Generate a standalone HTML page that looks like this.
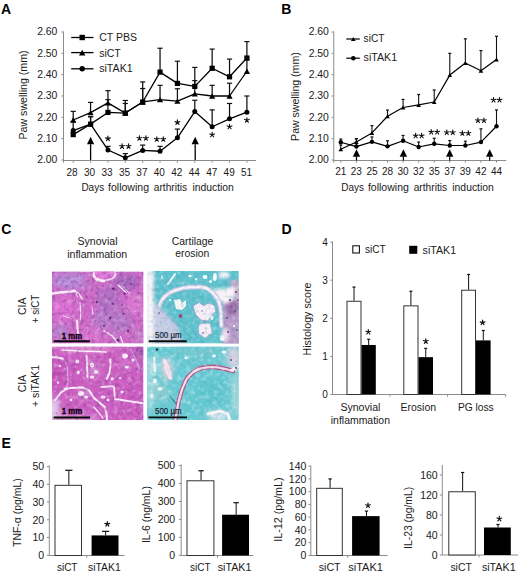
<!DOCTYPE html>
<html><head><meta charset="utf-8"><style>
html,body{margin:0;padding:0;background:#fff;width:520px;height:575px;overflow:hidden}
svg{display:block}
text{font-family:"Liberation Sans", sans-serif}
</style></head><body>
<svg width="520" height="575" viewBox="0 0 520 575">
<rect width="520" height="575" fill="#fff"/>
<text x="1.0" y="13.6" font-size="14" font-weight="bold" fill="#000">A</text>
<text x="281.2" y="13.8" font-size="14" font-weight="bold" fill="#000">B</text>
<text x="1.3" y="233.6" font-size="14" font-weight="bold" fill="#000">C</text>
<text x="281.6" y="233.8" font-size="14" font-weight="bold" fill="#000">D</text>
<text x="1.6" y="448.0" font-size="14" font-weight="bold" fill="#000">E</text>
<line x1="63.5" y1="31.5" x2="63.5" y2="162.7" stroke="#8c8c8c" stroke-width="1"/>
<line x1="63.5" y1="160.5" x2="256" y2="160.5" stroke="#8c8c8c" stroke-width="1"/>
<line x1="61.3" y1="160.0" x2="63.5" y2="160.0" stroke="#8c8c8c" stroke-width="1"/>
<text x="57.4" y="163.4" font-size="10.4" text-anchor="end" fill="#1a1a1a">2.00</text>
<line x1="61.3" y1="138.66699999999997" x2="63.5" y2="138.66699999999997" stroke="#8c8c8c" stroke-width="1"/>
<text x="57.4" y="142.07" font-size="10.4" text-anchor="end" fill="#1a1a1a">2.10</text>
<line x1="61.3" y1="117.33399999999996" x2="63.5" y2="117.33399999999996" stroke="#8c8c8c" stroke-width="1"/>
<text x="57.4" y="120.73" font-size="10.4" text-anchor="end" fill="#1a1a1a">2.20</text>
<line x1="61.3" y1="96.00100000000003" x2="63.5" y2="96.00100000000003" stroke="#8c8c8c" stroke-width="1"/>
<text x="57.4" y="99.4" font-size="10.4" text-anchor="end" fill="#1a1a1a">2.30</text>
<line x1="61.3" y1="74.66800000000002" x2="63.5" y2="74.66800000000002" stroke="#8c8c8c" stroke-width="1"/>
<text x="57.4" y="78.07" font-size="10.4" text-anchor="end" fill="#1a1a1a">2.40</text>
<line x1="61.3" y1="53.334999999999994" x2="63.5" y2="53.334999999999994" stroke="#8c8c8c" stroke-width="1"/>
<text x="57.4" y="56.73" font-size="10.4" text-anchor="end" fill="#1a1a1a">2.50</text>
<line x1="61.3" y1="32.00199999999997" x2="63.5" y2="32.00199999999997" stroke="#8c8c8c" stroke-width="1"/>
<text x="57.4" y="35.4" font-size="10.4" text-anchor="end" fill="#1a1a1a">2.60</text>
<line x1="73.2" y1="160" x2="73.2" y2="162.7" stroke="#8c8c8c" stroke-width="1"/>
<text x="72.1" y="175.8" font-size="10" text-anchor="middle" fill="#1a1a1a">28</text>
<line x1="90.57" y1="160" x2="90.57" y2="162.7" stroke="#8c8c8c" stroke-width="1"/>
<text x="89.55" y="175.8" font-size="10" text-anchor="middle" fill="#1a1a1a">30</text>
<line x1="107.94" y1="160" x2="107.94" y2="162.7" stroke="#8c8c8c" stroke-width="1"/>
<text x="107.0" y="175.8" font-size="10" text-anchor="middle" fill="#1a1a1a">33</text>
<line x1="125.31" y1="160" x2="125.31" y2="162.7" stroke="#8c8c8c" stroke-width="1"/>
<text x="124.45" y="175.8" font-size="10" text-anchor="middle" fill="#1a1a1a">35</text>
<line x1="142.68" y1="160" x2="142.68" y2="162.7" stroke="#8c8c8c" stroke-width="1"/>
<text x="141.9" y="175.8" font-size="10" text-anchor="middle" fill="#1a1a1a">37</text>
<line x1="160.05" y1="160" x2="160.05" y2="162.7" stroke="#8c8c8c" stroke-width="1"/>
<text x="159.35" y="175.8" font-size="10" text-anchor="middle" fill="#1a1a1a">40</text>
<line x1="177.42" y1="160" x2="177.42" y2="162.7" stroke="#8c8c8c" stroke-width="1"/>
<text x="176.8" y="175.8" font-size="10" text-anchor="middle" fill="#1a1a1a">42</text>
<line x1="194.79" y1="160" x2="194.79" y2="162.7" stroke="#8c8c8c" stroke-width="1"/>
<text x="194.25" y="175.8" font-size="10" text-anchor="middle" fill="#1a1a1a">44</text>
<line x1="212.16" y1="160" x2="212.16" y2="162.7" stroke="#8c8c8c" stroke-width="1"/>
<text x="211.7" y="175.8" font-size="10" text-anchor="middle" fill="#1a1a1a">47</text>
<line x1="229.53" y1="160" x2="229.53" y2="162.7" stroke="#8c8c8c" stroke-width="1"/>
<text x="229.15" y="175.8" font-size="10" text-anchor="middle" fill="#1a1a1a">49</text>
<line x1="246.9" y1="160" x2="246.9" y2="162.7" stroke="#8c8c8c" stroke-width="1"/>
<text x="246.6" y="175.8" font-size="10" text-anchor="middle" fill="#1a1a1a">51</text>
<text x="81.4" y="190.6" font-size="10" textLength="22.8" lengthAdjust="spacingAndGlyphs" fill="#1a1a1a">Days</text>
<text x="108.0" y="190.6" font-size="10" textLength="41.0" lengthAdjust="spacingAndGlyphs" fill="#1a1a1a">following</text>
<text x="153.8" y="190.6" font-size="10" textLength="33.4" lengthAdjust="spacingAndGlyphs" fill="#1a1a1a">arthritis</text>
<text x="192.4" y="190.6" font-size="10" textLength="41.5" lengthAdjust="spacingAndGlyphs" fill="#1a1a1a">induction</text>
<text transform="translate(26.8,95.0) rotate(-90)" x="0" y="0" font-size="10" text-anchor="middle" textLength="89" lengthAdjust="spacingAndGlyphs" fill="#1a1a1a">Paw swelling (mm)</text>
<line x1="73.2" y1="134.61" x2="73.2" y2="132.27" stroke="#111" stroke-width="1.25"/>
<line x1="70.6" y1="132.27" x2="75.8" y2="132.27" stroke="#111" stroke-width="1.2"/>
<line x1="90.57" y1="124.16" x2="90.57" y2="116.69" stroke="#111" stroke-width="1.25"/>
<line x1="87.97" y1="116.69" x2="93.17" y2="116.69" stroke="#111" stroke-width="1.2"/>
<line x1="107.94" y1="112.43" x2="107.94" y2="99.63" stroke="#111" stroke-width="1.25"/>
<line x1="105.34" y1="99.63" x2="110.54" y2="99.63" stroke="#111" stroke-width="1.2"/>
<line x1="125.31" y1="113.07" x2="125.31" y2="100.48" stroke="#111" stroke-width="1.25"/>
<line x1="122.71" y1="100.48" x2="127.91" y2="100.48" stroke="#111" stroke-width="1.2"/>
<line x1="142.68" y1="101.97" x2="142.68" y2="88.53" stroke="#111" stroke-width="1.25"/>
<line x1="140.08" y1="88.53" x2="145.28" y2="88.53" stroke="#111" stroke-width="1.2"/>
<line x1="160.05" y1="72.11" x2="160.05" y2="48.22" stroke="#111" stroke-width="1.25"/>
<line x1="157.45" y1="48.22" x2="162.65" y2="48.22" stroke="#111" stroke-width="1.2"/>
<line x1="177.42" y1="83.41" x2="177.42" y2="61.23" stroke="#111" stroke-width="1.25"/>
<line x1="174.82" y1="61.23" x2="180.02" y2="61.23" stroke="#111" stroke-width="1.2"/>
<line x1="194.79" y1="86.4" x2="194.79" y2="67.41" stroke="#111" stroke-width="1.25"/>
<line x1="192.19" y1="67.41" x2="197.39" y2="67.41" stroke="#111" stroke-width="1.2"/>
<line x1="212.16" y1="68.27" x2="212.16" y2="49.07" stroke="#111" stroke-width="1.25"/>
<line x1="209.56" y1="49.07" x2="214.76" y2="49.07" stroke="#111" stroke-width="1.2"/>
<line x1="229.53" y1="76.8" x2="229.53" y2="59.09" stroke="#111" stroke-width="1.25"/>
<line x1="226.93" y1="59.09" x2="232.13" y2="59.09" stroke="#111" stroke-width="1.2"/>
<line x1="246.9" y1="58.03" x2="246.9" y2="41.6" stroke="#111" stroke-width="1.25"/>
<line x1="244.3" y1="41.6" x2="249.5" y2="41.6" stroke="#111" stroke-width="1.2"/>
<line x1="73.2" y1="120.0" x2="73.2" y2="111.36" stroke="#111" stroke-width="1.25"/>
<line x1="70.6" y1="111.36" x2="75.8" y2="111.36" stroke="#111" stroke-width="1.2"/>
<line x1="90.57" y1="112.64" x2="90.57" y2="102.4" stroke="#111" stroke-width="1.25"/>
<line x1="87.97" y1="102.4" x2="93.17" y2="102.4" stroke="#111" stroke-width="1.2"/>
<line x1="107.94" y1="102.83" x2="107.94" y2="90.67" stroke="#111" stroke-width="1.25"/>
<line x1="105.34" y1="90.67" x2="110.54" y2="90.67" stroke="#111" stroke-width="1.2"/>
<line x1="125.31" y1="113.07" x2="125.31" y2="103.47" stroke="#111" stroke-width="1.25"/>
<line x1="122.71" y1="103.47" x2="127.91" y2="103.47" stroke="#111" stroke-width="1.2"/>
<line x1="142.68" y1="101.97" x2="142.68" y2="81.92" stroke="#111" stroke-width="1.25"/>
<line x1="140.08" y1="81.92" x2="145.28" y2="81.92" stroke="#111" stroke-width="1.2"/>
<line x1="160.05" y1="99.63" x2="160.05" y2="85.33" stroke="#111" stroke-width="1.25"/>
<line x1="157.45" y1="85.33" x2="162.65" y2="85.33" stroke="#111" stroke-width="1.2"/>
<line x1="177.42" y1="101.12" x2="177.42" y2="88.75" stroke="#111" stroke-width="1.25"/>
<line x1="174.82" y1="88.75" x2="180.02" y2="88.75" stroke="#111" stroke-width="1.2"/>
<line x1="194.79" y1="93.87" x2="194.79" y2="80.64" stroke="#111" stroke-width="1.25"/>
<line x1="192.19" y1="80.64" x2="197.39" y2="80.64" stroke="#111" stroke-width="1.2"/>
<line x1="212.16" y1="96.0" x2="212.16" y2="85.33" stroke="#111" stroke-width="1.25"/>
<line x1="209.56" y1="85.33" x2="214.76" y2="85.33" stroke="#111" stroke-width="1.2"/>
<line x1="229.53" y1="96.0" x2="229.53" y2="83.2" stroke="#111" stroke-width="1.25"/>
<line x1="226.93" y1="83.2" x2="232.13" y2="83.2" stroke="#111" stroke-width="1.2"/>
<line x1="246.9" y1="71.25" x2="246.9" y2="59.73" stroke="#111" stroke-width="1.25"/>
<line x1="244.3" y1="59.73" x2="249.5" y2="59.73" stroke="#111" stroke-width="1.2"/>
<line x1="73.2" y1="130.56" x2="73.2" y2="121.6" stroke="#111" stroke-width="1.25"/>
<line x1="70.6" y1="121.6" x2="75.8" y2="121.6" stroke="#111" stroke-width="1.2"/>
<line x1="90.57" y1="124.16" x2="90.57" y2="116.69" stroke="#111" stroke-width="1.25"/>
<line x1="87.97" y1="116.69" x2="93.17" y2="116.69" stroke="#111" stroke-width="1.2"/>
<line x1="107.94" y1="149.97" x2="107.94" y2="146.35" stroke="#111" stroke-width="1.25"/>
<line x1="105.34" y1="146.35" x2="110.54" y2="146.35" stroke="#111" stroke-width="1.2"/>
<line x1="125.31" y1="157.87" x2="125.31" y2="153.6" stroke="#111" stroke-width="1.25"/>
<line x1="122.71" y1="153.6" x2="127.91" y2="153.6" stroke="#111" stroke-width="1.2"/>
<line x1="142.68" y1="150.4" x2="142.68" y2="145.07" stroke="#111" stroke-width="1.25"/>
<line x1="140.08" y1="145.07" x2="145.28" y2="145.07" stroke="#111" stroke-width="1.2"/>
<line x1="160.05" y1="151.25" x2="160.05" y2="146.35" stroke="#111" stroke-width="1.25"/>
<line x1="157.45" y1="146.35" x2="162.65" y2="146.35" stroke="#111" stroke-width="1.2"/>
<line x1="177.42" y1="137.81" x2="177.42" y2="129.07" stroke="#111" stroke-width="1.25"/>
<line x1="174.82" y1="129.07" x2="180.02" y2="129.07" stroke="#111" stroke-width="1.2"/>
<line x1="194.79" y1="111.57" x2="194.79" y2="100.27" stroke="#111" stroke-width="1.25"/>
<line x1="192.19" y1="100.27" x2="197.39" y2="100.27" stroke="#111" stroke-width="1.2"/>
<line x1="212.16" y1="126.72" x2="212.16" y2="109.87" stroke="#111" stroke-width="1.25"/>
<line x1="209.56" y1="109.87" x2="214.76" y2="109.87" stroke="#111" stroke-width="1.2"/>
<line x1="229.53" y1="118.83" x2="229.53" y2="103.47" stroke="#111" stroke-width="1.25"/>
<line x1="226.93" y1="103.47" x2="232.13" y2="103.47" stroke="#111" stroke-width="1.2"/>
<line x1="246.9" y1="112.21" x2="246.9" y2="96.0" stroke="#111" stroke-width="1.25"/>
<line x1="244.3" y1="96.0" x2="249.5" y2="96.0" stroke="#111" stroke-width="1.2"/>
<polyline points="73.20,134.61 90.57,124.16 107.94,112.43 125.31,113.07 142.68,101.97 160.05,72.11 177.42,83.41 194.79,86.40 212.16,68.27 229.53,76.80 246.90,58.03" fill="none" stroke="#000" stroke-width="1.3" stroke-linejoin="round"/>
<polyline points="73.20,120.00 90.57,112.64 107.94,102.83 125.31,113.07 142.68,101.97 160.05,99.63 177.42,101.12 194.79,93.87 212.16,96.00 229.53,96.00 246.90,71.25" fill="none" stroke="#000" stroke-width="1.3" stroke-linejoin="round"/>
<polyline points="73.20,130.56 90.57,124.16 107.94,149.97 125.31,157.87 142.68,150.40 160.05,151.25 177.42,137.81 194.79,111.57 212.16,126.72 229.53,118.83 246.90,112.21" fill="none" stroke="#000" stroke-width="1.3" stroke-linejoin="round"/>
<rect x="70.60" y="132.01" width="5.2" height="5.2" fill="#000"/>
<rect x="87.97" y="121.56" width="5.2" height="5.2" fill="#000"/>
<rect x="105.34" y="109.83" width="5.2" height="5.2" fill="#000"/>
<rect x="122.71" y="110.47" width="5.2" height="5.2" fill="#000"/>
<rect x="140.08" y="99.37" width="5.2" height="5.2" fill="#000"/>
<rect x="157.45" y="69.51" width="5.2" height="5.2" fill="#000"/>
<rect x="174.82" y="80.81" width="5.2" height="5.2" fill="#000"/>
<rect x="192.19" y="83.80" width="5.2" height="5.2" fill="#000"/>
<rect x="209.56" y="65.67" width="5.2" height="5.2" fill="#000"/>
<rect x="226.93" y="74.20" width="5.2" height="5.2" fill="#000"/>
<rect x="244.30" y="55.43" width="5.2" height="5.2" fill="#000"/>
<polygon points="70.10,122.70 76.30,122.70 73.20,117.30" fill="#000"/>
<polygon points="87.47,115.34 93.67,115.34 90.57,109.94" fill="#000"/>
<polygon points="104.84,105.52 111.04,105.52 107.94,100.13" fill="#000"/>
<polygon points="122.21,115.76 128.41,115.76 125.31,110.37" fill="#000"/>
<polygon points="139.58,104.67 145.78,104.67 142.68,99.28" fill="#000"/>
<polygon points="156.95,102.32 163.15,102.32 160.05,96.93" fill="#000"/>
<polygon points="174.32,103.82 180.52,103.82 177.42,98.42" fill="#000"/>
<polygon points="191.69,96.56 197.89,96.56 194.79,91.17" fill="#000"/>
<polygon points="209.06,98.70 215.26,98.70 212.16,93.30" fill="#000"/>
<polygon points="226.43,98.70 232.63,98.70 229.53,93.30" fill="#000"/>
<polygon points="243.80,73.95 250.00,73.95 246.90,68.56" fill="#000"/>
<circle cx="73.20" cy="130.56" r="2.5" fill="#000"/>
<circle cx="90.57" cy="124.16" r="2.5" fill="#000"/>
<circle cx="107.94" cy="149.97" r="2.5" fill="#000"/>
<circle cx="125.31" cy="157.87" r="2.5" fill="#000"/>
<circle cx="142.68" cy="150.40" r="2.5" fill="#000"/>
<circle cx="160.05" cy="151.25" r="2.5" fill="#000"/>
<circle cx="177.42" cy="137.81" r="2.5" fill="#000"/>
<circle cx="194.79" cy="111.57" r="2.5" fill="#000"/>
<circle cx="212.16" cy="126.72" r="2.5" fill="#000"/>
<circle cx="229.53" cy="118.83" r="2.5" fill="#000"/>
<circle cx="246.90" cy="112.21" r="2.5" fill="#000"/>
<line x1="90.6" y1="144.3" x2="90.6" y2="160" stroke="#000" stroke-width="1.3"/>
<polygon points="87.00,144.3 94.20,144.3 90.60,136.8" fill="#000"/>
<line x1="195.2" y1="144.3" x2="195.2" y2="160" stroke="#000" stroke-width="1.3"/>
<polygon points="191.60,144.3 198.80,144.3 195.20,136.8" fill="#000"/>
<path d="M107.94,138.60L107.94,136.10M107.94,138.60L110.32,137.83M107.94,138.60L109.41,140.62M107.94,138.60L106.47,140.62M107.94,138.60L105.56,137.83" stroke="#111" stroke-width="1.15" stroke-linecap="round" fill="none"/>
<path d="M122.06,146.30L122.06,143.80M122.06,146.30L124.44,145.53M122.06,146.30L123.53,148.32M122.06,146.30L120.59,148.32M122.06,146.30L119.68,145.53" stroke="#111" stroke-width="1.15" stroke-linecap="round" fill="none"/>
<path d="M128.56,146.30L128.56,143.80M128.56,146.30L130.94,145.53M128.56,146.30L130.03,148.32M128.56,146.30L127.09,148.32M128.56,146.30L126.18,145.53" stroke="#111" stroke-width="1.15" stroke-linecap="round" fill="none"/>
<path d="M139.43,138.20L139.43,135.70M139.43,138.20L141.81,137.43M139.43,138.20L140.90,140.22M139.43,138.20L137.96,140.22M139.43,138.20L137.05,137.43" stroke="#111" stroke-width="1.15" stroke-linecap="round" fill="none"/>
<path d="M145.93,138.20L145.93,135.70M145.93,138.20L148.31,137.43M145.93,138.20L147.40,140.22M145.93,138.20L144.46,140.22M145.93,138.20L143.55,137.43" stroke="#111" stroke-width="1.15" stroke-linecap="round" fill="none"/>
<path d="M156.80,139.20L156.80,136.70M156.80,139.20L159.18,138.43M156.80,139.20L158.27,141.22M156.80,139.20L155.33,141.22M156.80,139.20L154.42,138.43" stroke="#111" stroke-width="1.15" stroke-linecap="round" fill="none"/>
<path d="M163.30,139.20L163.30,136.70M163.30,139.20L165.68,138.43M163.30,139.20L164.77,141.22M163.30,139.20L161.83,141.22M163.30,139.20L160.92,138.43" stroke="#111" stroke-width="1.15" stroke-linecap="round" fill="none"/>
<path d="M177.42,122.40L177.42,119.90M177.42,122.40L179.80,121.63M177.42,122.40L178.89,124.42M177.42,122.40L175.95,124.42M177.42,122.40L175.04,121.63" stroke="#111" stroke-width="1.15" stroke-linecap="round" fill="none"/>
<path d="M212.16,134.75L212.16,132.25M212.16,134.75L214.54,133.98M212.16,134.75L213.63,136.77M212.16,134.75L210.69,136.77M212.16,134.75L209.78,133.98" stroke="#111" stroke-width="1.15" stroke-linecap="round" fill="none"/>
<path d="M229.53,126.70L229.53,124.20M229.53,126.70L231.91,125.93M229.53,126.70L231.00,128.72M229.53,126.70L228.06,128.72M229.53,126.70L227.15,125.93" stroke="#111" stroke-width="1.15" stroke-linecap="round" fill="none"/>
<path d="M246.90,120.20L246.90,117.70M246.90,120.20L249.28,119.43M246.90,120.20L248.37,122.22M246.90,120.20L245.43,122.22M246.90,120.20L244.52,119.43" stroke="#111" stroke-width="1.15" stroke-linecap="round" fill="none"/>
<line x1="71.2" y1="37.5" x2="93.5" y2="37.5" stroke="#000" stroke-width="1.3"/>
<rect x="79.50" y="34.80" width="5.4" height="5.4" fill="#000"/>
<line x1="71.2" y1="52.6" x2="93.5" y2="52.6" stroke="#000" stroke-width="1.3"/>
<polygon points="79.00,55.38 85.40,55.38 82.20,49.82" fill="#000"/>
<line x1="71.2" y1="68.8" x2="93.5" y2="68.8" stroke="#000" stroke-width="1.3"/>
<circle cx="82.20" cy="68.80" r="2.7" fill="#000"/>
<text x="99.2" y="40.7" font-size="10" textLength="37.8" lengthAdjust="spacingAndGlyphs" fill="#1a1a1a">CT PBS</text>
<text x="99.2" y="56.5" font-size="10" textLength="21.6" lengthAdjust="spacingAndGlyphs" fill="#1a1a1a">siCT</text>
<text x="99.2" y="71.8" font-size="10" textLength="33.5" lengthAdjust="spacingAndGlyphs" fill="#1a1a1a">siTAK1</text>
<line x1="333.75" y1="31.5" x2="333.75" y2="162.7" stroke="#8c8c8c" stroke-width="1"/>
<line x1="333.75" y1="160.5" x2="506.3" y2="160.5" stroke="#8c8c8c" stroke-width="1"/>
<line x1="331.6" y1="160.0" x2="333.75" y2="160.0" stroke="#8c8c8c" stroke-width="1"/>
<text x="328.9" y="163.3" font-size="10.4" text-anchor="end" fill="#1a1a1a">2.00</text>
<line x1="331.6" y1="138.66699999999997" x2="333.75" y2="138.66699999999997" stroke="#8c8c8c" stroke-width="1"/>
<text x="328.9" y="141.97" font-size="10.4" text-anchor="end" fill="#1a1a1a">2.10</text>
<line x1="331.6" y1="117.33399999999996" x2="333.75" y2="117.33399999999996" stroke="#8c8c8c" stroke-width="1"/>
<text x="328.9" y="120.63" font-size="10.4" text-anchor="end" fill="#1a1a1a">2.20</text>
<line x1="331.6" y1="96.00100000000003" x2="333.75" y2="96.00100000000003" stroke="#8c8c8c" stroke-width="1"/>
<text x="328.9" y="99.3" font-size="10.4" text-anchor="end" fill="#1a1a1a">2.30</text>
<line x1="331.6" y1="74.66800000000002" x2="333.75" y2="74.66800000000002" stroke="#8c8c8c" stroke-width="1"/>
<text x="328.9" y="77.97" font-size="10.4" text-anchor="end" fill="#1a1a1a">2.40</text>
<line x1="331.6" y1="53.334999999999994" x2="333.75" y2="53.334999999999994" stroke="#8c8c8c" stroke-width="1"/>
<text x="328.9" y="56.63" font-size="10.4" text-anchor="end" fill="#1a1a1a">2.50</text>
<line x1="331.6" y1="32.00199999999997" x2="333.75" y2="32.00199999999997" stroke="#8c8c8c" stroke-width="1"/>
<text x="328.9" y="35.3" font-size="10.4" text-anchor="end" fill="#1a1a1a">2.60</text>
<line x1="340.8" y1="160" x2="340.8" y2="162.7" stroke="#8c8c8c" stroke-width="1"/>
<text x="340.8" y="175.2" font-size="10" text-anchor="middle" fill="#1a1a1a">21</text>
<line x1="356.37" y1="160" x2="356.37" y2="162.7" stroke="#8c8c8c" stroke-width="1"/>
<text x="356.37" y="175.2" font-size="10" text-anchor="middle" fill="#1a1a1a">23</text>
<line x1="371.94" y1="160" x2="371.94" y2="162.7" stroke="#8c8c8c" stroke-width="1"/>
<text x="371.94" y="175.2" font-size="10" text-anchor="middle" fill="#1a1a1a">25</text>
<line x1="387.51" y1="160" x2="387.51" y2="162.7" stroke="#8c8c8c" stroke-width="1"/>
<text x="387.51" y="175.2" font-size="10" text-anchor="middle" fill="#1a1a1a">28</text>
<line x1="403.08" y1="160" x2="403.08" y2="162.7" stroke="#8c8c8c" stroke-width="1"/>
<text x="403.08" y="175.2" font-size="10" text-anchor="middle" fill="#1a1a1a">30</text>
<line x1="418.65" y1="160" x2="418.65" y2="162.7" stroke="#8c8c8c" stroke-width="1"/>
<text x="418.65" y="175.2" font-size="10" text-anchor="middle" fill="#1a1a1a">32</text>
<line x1="434.22" y1="160" x2="434.22" y2="162.7" stroke="#8c8c8c" stroke-width="1"/>
<text x="434.22" y="175.2" font-size="10" text-anchor="middle" fill="#1a1a1a">35</text>
<line x1="449.79" y1="160" x2="449.79" y2="162.7" stroke="#8c8c8c" stroke-width="1"/>
<text x="449.79" y="175.2" font-size="10" text-anchor="middle" fill="#1a1a1a">37</text>
<line x1="465.36" y1="160" x2="465.36" y2="162.7" stroke="#8c8c8c" stroke-width="1"/>
<text x="465.36" y="175.2" font-size="10" text-anchor="middle" fill="#1a1a1a">39</text>
<line x1="480.93" y1="160" x2="480.93" y2="162.7" stroke="#8c8c8c" stroke-width="1"/>
<text x="480.93" y="175.2" font-size="10" text-anchor="middle" fill="#1a1a1a">42</text>
<line x1="496.5" y1="160" x2="496.5" y2="162.7" stroke="#8c8c8c" stroke-width="1"/>
<text x="496.5" y="175.2" font-size="10" text-anchor="middle" fill="#1a1a1a">44</text>
<text x="341.3" y="190.8" font-size="10" textLength="22.8" lengthAdjust="spacingAndGlyphs" fill="#1a1a1a">Days</text>
<text x="367.9" y="190.8" font-size="10" textLength="41.0" lengthAdjust="spacingAndGlyphs" fill="#1a1a1a">following</text>
<text x="413.7" y="190.8" font-size="10" textLength="33.4" lengthAdjust="spacingAndGlyphs" fill="#1a1a1a">arthritis</text>
<text x="452.3" y="190.8" font-size="10" textLength="41.5" lengthAdjust="spacingAndGlyphs" fill="#1a1a1a">induction</text>
<text transform="translate(299.3,96.6) rotate(-90)" x="0" y="0" font-size="10" text-anchor="middle" textLength="88.6" lengthAdjust="spacingAndGlyphs" fill="#1a1a1a">Paw swelling (mm)</text>
<line x1="340.8" y1="149.33" x2="340.8" y2="145.07" stroke="#111" stroke-width="1.1"/>
<line x1="339.3" y1="145.07" x2="342.3" y2="145.07" stroke="#111" stroke-width="1.2"/>
<line x1="356.37" y1="142.08" x2="356.37" y2="138.67" stroke="#111" stroke-width="1.1"/>
<line x1="354.87" y1="138.67" x2="357.87" y2="138.67" stroke="#111" stroke-width="1.2"/>
<line x1="371.94" y1="132.91" x2="371.94" y2="125.65" stroke="#111" stroke-width="1.1"/>
<line x1="370.44" y1="125.65" x2="373.44" y2="125.65" stroke="#111" stroke-width="1.2"/>
<line x1="387.51" y1="116.27" x2="387.51" y2="110.08" stroke="#111" stroke-width="1.1"/>
<line x1="386.01" y1="110.08" x2="389.01" y2="110.08" stroke="#111" stroke-width="1.2"/>
<line x1="403.08" y1="107.52" x2="403.08" y2="99.41" stroke="#111" stroke-width="1.1"/>
<line x1="401.58" y1="99.41" x2="404.58" y2="99.41" stroke="#111" stroke-width="1.2"/>
<line x1="418.65" y1="104.96" x2="418.65" y2="94.51" stroke="#111" stroke-width="1.1"/>
<line x1="417.15" y1="94.51" x2="420.15" y2="94.51" stroke="#111" stroke-width="1.2"/>
<line x1="434.22" y1="101.97" x2="434.22" y2="90.03" stroke="#111" stroke-width="1.1"/>
<line x1="432.72" y1="90.03" x2="435.72" y2="90.03" stroke="#111" stroke-width="1.2"/>
<line x1="449.79" y1="75.09" x2="449.79" y2="53.33" stroke="#111" stroke-width="1.1"/>
<line x1="448.29" y1="53.33" x2="451.29" y2="53.33" stroke="#111" stroke-width="1.2"/>
<line x1="465.36" y1="62.93" x2="465.36" y2="38.83" stroke="#111" stroke-width="1.1"/>
<line x1="463.86" y1="38.83" x2="466.86" y2="38.83" stroke="#111" stroke-width="1.2"/>
<line x1="480.93" y1="70.83" x2="480.93" y2="50.56" stroke="#111" stroke-width="1.1"/>
<line x1="479.43" y1="50.56" x2="482.43" y2="50.56" stroke="#111" stroke-width="1.2"/>
<line x1="496.5" y1="59.52" x2="496.5" y2="36.27" stroke="#111" stroke-width="1.1"/>
<line x1="495.0" y1="36.27" x2="498.0" y2="36.27" stroke="#111" stroke-width="1.2"/>
<line x1="340.8" y1="142.29" x2="340.8" y2="139.09" stroke="#111" stroke-width="1.1"/>
<line x1="339.3" y1="139.09" x2="342.3" y2="139.09" stroke="#111" stroke-width="1.2"/>
<line x1="356.37" y1="146.56" x2="356.37" y2="138.67" stroke="#111" stroke-width="1.1"/>
<line x1="354.87" y1="138.67" x2="357.87" y2="138.67" stroke="#111" stroke-width="1.2"/>
<line x1="371.94" y1="141.87" x2="371.94" y2="136.96" stroke="#111" stroke-width="1.1"/>
<line x1="370.44" y1="136.96" x2="373.44" y2="136.96" stroke="#111" stroke-width="1.2"/>
<line x1="387.51" y1="146.35" x2="387.51" y2="140.8" stroke="#111" stroke-width="1.1"/>
<line x1="386.01" y1="140.8" x2="389.01" y2="140.8" stroke="#111" stroke-width="1.2"/>
<line x1="403.08" y1="140.8" x2="403.08" y2="135.47" stroke="#111" stroke-width="1.1"/>
<line x1="401.58" y1="135.47" x2="404.58" y2="135.47" stroke="#111" stroke-width="1.2"/>
<line x1="418.65" y1="146.99" x2="418.65" y2="142.08" stroke="#111" stroke-width="1.1"/>
<line x1="417.15" y1="142.08" x2="420.15" y2="142.08" stroke="#111" stroke-width="1.2"/>
<line x1="434.22" y1="143.79" x2="434.22" y2="138.24" stroke="#111" stroke-width="1.1"/>
<line x1="432.72" y1="138.24" x2="435.72" y2="138.24" stroke="#111" stroke-width="1.2"/>
<line x1="449.79" y1="145.49" x2="449.79" y2="140.59" stroke="#111" stroke-width="1.1"/>
<line x1="448.29" y1="140.59" x2="451.29" y2="140.59" stroke="#111" stroke-width="1.2"/>
<line x1="465.36" y1="145.49" x2="465.36" y2="141.23" stroke="#111" stroke-width="1.1"/>
<line x1="463.86" y1="141.23" x2="466.86" y2="141.23" stroke="#111" stroke-width="1.2"/>
<line x1="480.93" y1="142.08" x2="480.93" y2="128.85" stroke="#111" stroke-width="1.1"/>
<line x1="479.43" y1="128.85" x2="482.43" y2="128.85" stroke="#111" stroke-width="1.2"/>
<line x1="496.5" y1="126.29" x2="496.5" y2="109.87" stroke="#111" stroke-width="1.1"/>
<line x1="495.0" y1="109.87" x2="498.0" y2="109.87" stroke="#111" stroke-width="1.2"/>
<polyline points="340.80,149.33 356.37,142.08 371.94,132.91 387.51,116.27 403.08,107.52 418.65,104.96 434.22,101.97 449.79,75.09 465.36,62.93 480.93,70.83 496.50,59.52" fill="none" stroke="#000" stroke-width="1.2" stroke-linejoin="round"/>
<polyline points="340.80,142.29 356.37,146.56 371.94,141.87 387.51,146.35 403.08,140.80 418.65,146.99 434.22,143.79 449.79,145.49 465.36,145.49 480.93,142.08 496.50,126.29" fill="none" stroke="#000" stroke-width="1.2" stroke-linejoin="round"/>
<polygon points="338.50,151.33 343.10,151.33 340.80,147.33" fill="#000"/>
<polygon points="354.07,144.08 358.67,144.08 356.37,140.08" fill="#000"/>
<polygon points="369.64,134.91 374.24,134.91 371.94,130.91" fill="#000"/>
<polygon points="385.21,118.27 389.81,118.27 387.51,114.27" fill="#000"/>
<polygon points="400.78,109.52 405.38,109.52 403.08,105.52" fill="#000"/>
<polygon points="416.35,106.96 420.95,106.96 418.65,102.96" fill="#000"/>
<polygon points="431.92,103.98 436.52,103.98 434.22,99.97" fill="#000"/>
<polygon points="447.49,77.10 452.09,77.10 449.79,73.09" fill="#000"/>
<polygon points="463.06,64.94 467.66,64.94 465.36,60.93" fill="#000"/>
<polygon points="478.63,72.83 483.23,72.83 480.93,68.83" fill="#000"/>
<polygon points="494.20,61.52 498.80,61.52 496.50,57.52" fill="#000"/>
<circle cx="340.80" cy="142.29" r="2.2" fill="#000"/>
<circle cx="356.37" cy="146.56" r="2.2" fill="#000"/>
<circle cx="371.94" cy="141.87" r="2.2" fill="#000"/>
<circle cx="387.51" cy="146.35" r="2.2" fill="#000"/>
<circle cx="403.08" cy="140.80" r="2.2" fill="#000"/>
<circle cx="418.65" cy="146.99" r="2.2" fill="#000"/>
<circle cx="434.22" cy="143.79" r="2.2" fill="#000"/>
<circle cx="449.79" cy="145.49" r="2.2" fill="#000"/>
<circle cx="465.36" cy="145.49" r="2.2" fill="#000"/>
<circle cx="480.93" cy="142.08" r="2.2" fill="#000"/>
<circle cx="496.50" cy="126.29" r="2.2" fill="#000"/>
<line x1="356.5" y1="156.7" x2="356.5" y2="160.5" stroke="#000" stroke-width="1.2"/>
<polygon points="352.80,156.7 360.20,156.7 356.50,149.2" fill="#000"/>
<line x1="403.4" y1="156.7" x2="403.4" y2="160.5" stroke="#000" stroke-width="1.2"/>
<polygon points="399.70,156.7 407.10,156.7 403.40,149.2" fill="#000"/>
<line x1="449.7" y1="156.7" x2="449.7" y2="160.5" stroke="#000" stroke-width="1.2"/>
<polygon points="446.00,156.7 453.40,156.7 449.70,149.2" fill="#000"/>
<line x1="489.7" y1="156.7" x2="489.7" y2="160.5" stroke="#000" stroke-width="1.2"/>
<polygon points="486.00,156.7 493.40,156.7 489.70,149.2" fill="#000"/>
<path d="M415.65,135.75L415.65,133.25M415.65,135.75L418.03,134.98M415.65,135.75L417.12,137.77M415.65,135.75L414.18,137.77M415.65,135.75L413.27,134.98" stroke="#111" stroke-width="1.15" stroke-linecap="round" fill="none"/>
<path d="M421.65,135.75L421.65,133.25M421.65,135.75L424.03,134.98M421.65,135.75L423.12,137.77M421.65,135.75L420.18,137.77M421.65,135.75L419.27,134.98" stroke="#111" stroke-width="1.15" stroke-linecap="round" fill="none"/>
<path d="M431.22,132.00L431.22,129.50M431.22,132.00L433.60,131.23M431.22,132.00L432.69,134.02M431.22,132.00L429.75,134.02M431.22,132.00L428.84,131.23" stroke="#111" stroke-width="1.15" stroke-linecap="round" fill="none"/>
<path d="M437.22,132.00L437.22,129.50M437.22,132.00L439.60,131.23M437.22,132.00L438.69,134.02M437.22,132.00L435.75,134.02M437.22,132.00L434.84,131.23" stroke="#111" stroke-width="1.15" stroke-linecap="round" fill="none"/>
<path d="M446.79,132.50L446.79,130.00M446.79,132.50L449.17,131.73M446.79,132.50L448.26,134.52M446.79,132.50L445.32,134.52M446.79,132.50L444.41,131.73" stroke="#111" stroke-width="1.15" stroke-linecap="round" fill="none"/>
<path d="M452.79,132.50L452.79,130.00M452.79,132.50L455.17,131.73M452.79,132.50L454.26,134.52M452.79,132.50L451.32,134.52M452.79,132.50L450.41,131.73" stroke="#111" stroke-width="1.15" stroke-linecap="round" fill="none"/>
<path d="M462.36,133.25L462.36,130.75M462.36,133.25L464.74,132.48M462.36,133.25L463.83,135.27M462.36,133.25L460.89,135.27M462.36,133.25L459.98,132.48" stroke="#111" stroke-width="1.15" stroke-linecap="round" fill="none"/>
<path d="M468.36,133.25L468.36,130.75M468.36,133.25L470.74,132.48M468.36,133.25L469.83,135.27M468.36,133.25L466.89,135.27M468.36,133.25L465.98,132.48" stroke="#111" stroke-width="1.15" stroke-linecap="round" fill="none"/>
<path d="M477.93,120.50L477.93,118.00M477.93,120.50L480.31,119.73M477.93,120.50L479.40,122.52M477.93,120.50L476.46,122.52M477.93,120.50L475.55,119.73" stroke="#111" stroke-width="1.15" stroke-linecap="round" fill="none"/>
<path d="M483.93,120.50L483.93,118.00M483.93,120.50L486.31,119.73M483.93,120.50L485.40,122.52M483.93,120.50L482.46,122.52M483.93,120.50L481.55,119.73" stroke="#111" stroke-width="1.15" stroke-linecap="round" fill="none"/>
<path d="M493.50,100.00L493.50,97.50M493.50,100.00L495.88,99.23M493.50,100.00L494.97,102.02M493.50,100.00L492.03,102.02M493.50,100.00L491.12,99.23" stroke="#111" stroke-width="1.15" stroke-linecap="round" fill="none"/>
<path d="M499.50,100.00L499.50,97.50M499.50,100.00L501.88,99.23M499.50,100.00L500.97,102.02M499.50,100.00L498.03,102.02M499.50,100.00L497.12,99.23" stroke="#111" stroke-width="1.15" stroke-linecap="round" fill="none"/>
<line x1="346.3" y1="39" x2="359.8" y2="39" stroke="#000" stroke-width="1.2"/>
<polygon points="350.90,41.09 355.70,41.09 353.30,36.91" fill="#000"/>
<line x1="346.3" y1="58.2" x2="359.8" y2="58.2" stroke="#000" stroke-width="1.2"/>
<circle cx="353.30" cy="58.20" r="2.3" fill="#000"/>
<text x="363.6" y="41.6" font-size="10" textLength="20.8" lengthAdjust="spacingAndGlyphs" fill="#1a1a1a">siCT</text>
<text x="363.6" y="60.6" font-size="10" textLength="33.5" lengthAdjust="spacingAndGlyphs" fill="#1a1a1a">siTAK1</text>
<text x="97.5" y="244.6" font-size="10" text-anchor="middle" textLength="40" lengthAdjust="spacingAndGlyphs" fill="#1a1a1a">Synovial</text>
<text x="97.2" y="257.5" font-size="10" text-anchor="middle" textLength="60" lengthAdjust="spacingAndGlyphs" fill="#1a1a1a">inflammation</text>
<text x="192.6" y="244.6" font-size="10" text-anchor="middle" textLength="41.6" lengthAdjust="spacingAndGlyphs" fill="#1a1a1a">Cartilage</text>
<text x="192.3" y="257.3" font-size="10" text-anchor="middle" textLength="34" lengthAdjust="spacingAndGlyphs" fill="#1a1a1a">erosion</text>
<text transform="translate(26.0,306.3) rotate(-90)" x="0" y="0" font-size="10" text-anchor="middle" textLength="17.4" lengthAdjust="spacingAndGlyphs" fill="#1a1a1a">CIA</text>
<text transform="translate(38.6,309.0) rotate(-90)" x="0" y="0" font-size="10" text-anchor="middle" textLength="28.5" lengthAdjust="spacingAndGlyphs" fill="#1a1a1a">+ siCT</text>
<text transform="translate(25.8,383.5) rotate(-90)" x="0" y="0" font-size="10" text-anchor="middle" textLength="17.4" lengthAdjust="spacingAndGlyphs" fill="#1a1a1a">CIA</text>
<text transform="translate(38.7,386.0) rotate(-90)" x="0" y="0" font-size="10" text-anchor="middle" textLength="42" lengthAdjust="spacingAndGlyphs" fill="#1a1a1a">+ siTAK1</text>
<defs>
<filter id="bl3" x="-20%" y="-20%" width="140%" height="140%"><feGaussianBlur stdDeviation="3"/></filter>
<filter id="bl2" x="-20%" y="-20%" width="140%" height="140%"><feGaussianBlur stdDeviation="1.6"/></filter>
<filter id="bl1" x="-20%" y="-20%" width="140%" height="140%"><feGaussianBlur stdDeviation="0.6"/></filter>
<filter id="noise" x="0" y="0" width="100%" height="100%">
  <feTurbulence type="fractalNoise" baseFrequency="0.35" numOctaves="2" seed="3" result="n"/>
  <feColorMatrix in="n" type="matrix" values="0 0 0 0 0  0 0 0 0 0  0 0 0 0 0  0 0 0 -1.4 0.75" result="a"/>
  <feComposite in="SourceGraphic" in2="a" operator="in"/>
</filter>
<filter id="spkW" x="0" y="0" width="100%" height="100%" color-interpolation-filters="sRGB">
 <feTurbulence type="fractalNoise" baseFrequency="0.22" numOctaves="2" seed="5"/>
 <feColorMatrix type="matrix" values="0 0 0 0 1  0 0 0 0 1  0 0 0 0 1  2.6 0 0 0 -1.25"/>
</filter>
<filter id="spkD" x="0" y="0" width="100%" height="100%" color-interpolation-filters="sRGB">
 <feTurbulence type="fractalNoise" baseFrequency="0.25" numOctaves="2" seed="11"/>
 <feColorMatrix type="matrix" values="0 0 0 0 0.35  0 0 0 0 0.15  0 0 0 0 0.45  0 2.6 0 0 -1.3"/>
</filter>
<filter id="spkT" x="0" y="0" width="100%" height="100%" color-interpolation-filters="sRGB">
 <feTurbulence type="fractalNoise" baseFrequency="0.25" numOctaves="2" seed="17"/>
 <feColorMatrix type="matrix" values="0 0 0 0 0.25  0 0 0 0 0.55  0 0 0 0 0.62  0 2.6 0 0 -1.3"/>
</filter>
<clipPath id="c1"><rect x="52" y="271.5" width="91.5" height="72"/></clipPath>
<clipPath id="c2"><rect x="147.5" y="271" width="91.3" height="72.5"/></clipPath>
<clipPath id="c3"><rect x="52" y="346.5" width="91.5" height="73.5"/></clipPath>
<clipPath id="c4"><rect x="147" y="346.5" width="91.8" height="73.5"/></clipPath>
</defs>

<!-- Tile 1: H&E synovial, siCT -->
<g clip-path="url(#c1)">
<rect x="52" y="271.5" width="91.5" height="72" fill="#d06ac8"/>
<g filter="url(#bl3)">
 <ellipse cx="70" cy="281" rx="19" ry="9" fill="#b888d8"/>
 <ellipse cx="64" cy="310" rx="12" ry="12" fill="#dc70d4"/>
 <ellipse cx="108" cy="300" rx="12" ry="14" fill="#b46ec6"/>
 <ellipse cx="119" cy="322" rx="14" ry="12" fill="#b876c8"/>
 <ellipse cx="100" cy="320" rx="7" ry="10" fill="#b87ccc"/>
 <ellipse cx="126" cy="282" rx="14" ry="8" fill="#a868c0"/>
 <ellipse cx="60" cy="332" rx="9" ry="8" fill="#b880cc"/>
 <ellipse cx="135" cy="303" rx="8" ry="10" fill="#dc7ad4"/>
 <ellipse cx="92" cy="334" rx="10" ry="7" fill="#d672cc"/>
 <ellipse cx="88" cy="285" rx="6" ry="6" fill="#c070c8"/>
 <ellipse cx="140" cy="335" rx="5" ry="8" fill="#c480cc"/>
</g>
<g filter="url(#bl1)" fill="none" stroke="#fbeefb" stroke-linecap="round">
 <ellipse cx="104.5" cy="273.5" rx="11" ry="6.8" fill="#e27ad8" stroke-width="1.6"/>
 <path d="M93.5,275 Q95,281.5 104,281.2" stroke-width="2.2"/>
 <path d="M51,293.8 L60,292.4 L70,291.8 L74.5,290.6" stroke-width="2.4"/>
 <path d="M74.5,290.6 L79,293.5 L82.2,299.5" stroke-width="1.1"/>
 <path d="M75.5,291.4 L77.6,297" stroke-width="0.9"/>
 <path d="M80,303 L80.8,314 L80.5,320" stroke-width="1.0"/>
 <path d="M77,321 L77.6,328 L78.3,335" stroke-width="2"/>
 <path d="M118,285 L126,292.5" stroke-width="1.1"/>
 <path d="M122.5,286 L129,293" stroke-width="0.8"/>
 <path d="M104,331 L112,335.5 L117.5,342.5" stroke-width="1.5"/>
 <path d="M120.5,336.5 L122.8,343" stroke-width="1.2"/>
 <path d="M92,308 L93,314" stroke-width="0.8"/>
 <path d="M63,316 L70,318" stroke-width="0.7"/>
</g>
<g fill="#4a1c66" filter="url(#bl1)" opacity="0.85">
 <ellipse cx="113.4" cy="288.8" rx="1.4" ry="1"/><ellipse cx="124.5" cy="293.6" rx="1.3" ry="1.1"/>
 <ellipse cx="97" cy="302" rx="1" ry="1.5"/><ellipse cx="121.9" cy="305.2" rx="1.2" ry="0.9"/>
 <ellipse cx="112.3" cy="304" rx="0.9" ry="1.2"/><ellipse cx="123.4" cy="313.7" rx="1.1" ry="0.9"/>
 <ellipse cx="110.2" cy="318" rx="1" ry="1.2"/><ellipse cx="131" cy="284" rx="1" ry="0.8"/>
 <ellipse cx="104" cy="326" rx="0.9" ry="0.9"/><ellipse cx="128" cy="331" rx="1" ry="1.2"/>
 <ellipse cx="118" cy="340" rx="1.6" ry="1.8"/>
</g>
<rect x="52" y="271.5" width="91.5" height="72" filter="url(#spkW)" opacity="0.3"/>
<rect x="52" y="271.5" width="91.5" height="72" filter="url(#spkD)" opacity="0.4"/>
</g>

<!-- Tile 2: Safranin O, siCT -->
<g clip-path="url(#c2)">
<rect x="147.5" y="271" width="91.3" height="72.5" fill="#5ec2ce"/>
<g filter="url(#bl2)">
 <rect x="144" y="268" width="9.8" height="80" fill="#f8f4f8"/>
 <path d="M154,303 L160,307 L170,318 L179,328 L183,346 L154,346 Z" fill="#c6cce4"/>
 <rect x="222.5" y="298" width="20" height="48" fill="#b898c8"/>
 <rect x="230" y="280" width="12" height="20" fill="#c4accc"/>
 <ellipse cx="232" cy="307" rx="6" ry="9" fill="#9a6aa8"/>
 <path d="M212,290 L235,287 L234,300 L224,304 L218,298 Z" fill="#f8f2f8"/>
 <ellipse cx="224" cy="275" rx="6" ry="3.5" fill="#f2eef6"/>
 <ellipse cx="225" cy="335" rx="4" ry="7" fill="#ecdcec"/>
</g>
<g filter="url(#bl1)" fill="none" stroke-linecap="round">
 <path d="M159.4,306 Q162,298 168,293.8 Q175,289.5 183.5,288 Q193,286.6 202.7,287.2 Q210,288.5 215.5,296 Q220,302 220.8,311 L221.3,326" stroke="#c6c2e4" stroke-width="4.8"/>
 <path d="M159.4,306 Q162,298 168,293.8 Q175,289.5 183.5,288 Q193,286.6 202.7,287.2 Q210,288.5 215.5,296 Q220,302 220.8,311 L221.3,326" stroke="#f4f2fa" stroke-width="2.4"/>
 <path d="M154,300 Q152.5,287 154.5,273" stroke="#c4cce4" stroke-width="1.2"/>
 <path d="M160,310 L170,318 L178,327" stroke="#a8a4d0" stroke-width="0.9"/>
 <path d="M168,284 L175,274" stroke="#f6fafc" stroke-width="2"/>
 <path d="M174,300 L180,299 L182,303 L186,300 L186,306 L182,310 L176,309 Z" fill="#f4f6f8" stroke="none"/>
 <path d="M193,306 L199,302.5 L204,306 L208,303 L214,305 L216,311 L211,316 L208,321 L201,320 L196,315 Z" fill="#f6eef6" stroke="#a68cc0" stroke-width="0.7"/>
 <path d="M199,324 L210,323 L212,333 L205,338 L199,334 Z" fill="#f6eef6" stroke="#b8a0c8" stroke-width="0.6"/>
</g>
<g filter="url(#bl1)" fill="#f6fbfc">
 <ellipse cx="205" cy="277" rx="2.5" ry="2"/><ellipse cx="215" cy="277" rx="2" ry="4"/>
 <ellipse cx="210.5" cy="281.5" rx="1.4" ry="1.5"/><ellipse cx="190" cy="276" rx="1.5" ry="1.3"/>
 <ellipse cx="212" cy="318" rx="1.6" ry="2"/><ellipse cx="162" cy="277" rx="1" ry="2"/>
 <ellipse cx="196" cy="279" rx="1.2" ry="1"/><ellipse cx="222" cy="338" rx="2.2" ry="3"/>
 <ellipse cx="170" cy="300" rx="1.1" ry="1.1"/><ellipse cx="234" cy="326" rx="1.3" ry="1.3"/>
</g>
<g fill="#6e3e80" filter="url(#bl1)">
 <circle cx="180.6" cy="316" r="2" fill="#a0407a"/><circle cx="230" cy="300" r="1.1"/><circle cx="235" cy="311" r="1.3"/>
 <circle cx="228" cy="332" r="1"/><circle cx="236" cy="292" r="1"/><circle cx="231" cy="306" r="1.1"/>
 <circle cx="202" cy="311" r="0.8"/><circle cx="203" cy="333" r="0.8"/><circle cx="159" cy="313" r="0.8"/>
 <circle cx="237" cy="330" r="1"/><circle cx="227" cy="318" r="1"/><circle cx="238" cy="300" r="1"/>
</g>
<rect x="147.5" y="271" width="91.3" height="72.5" filter="url(#spkW)" opacity="0.3"/>
<rect x="147.5" y="271" width="91.3" height="72.5" filter="url(#spkT)" opacity="0.3"/>
</g>

<!-- Tile 3: H&E, siTAK1 -->
<g clip-path="url(#c3)">
<rect x="52" y="346.5" width="91.5" height="73.5" fill="#cc5ec2"/>
<g filter="url(#bl3)">
 <ellipse cx="85" cy="348" rx="30" ry="2.5" fill="#eab0e0"/>
 <ellipse cx="54" cy="410" rx="6" ry="13" fill="#e4cff0"/>
 <ellipse cx="75" cy="420" rx="25" ry="2.5" fill="#e8c8ea"/>
 <ellipse cx="94" cy="370" rx="7" ry="9" fill="#d07ccc"/>
 <ellipse cx="83" cy="395" rx="7" ry="5" fill="#d488d4"/>
 <ellipse cx="125" cy="362" rx="9" ry="8" fill="#d06ec8"/>
 <ellipse cx="60" cy="372" rx="8" ry="14" fill="#c656bc"/>
 <ellipse cx="125" cy="414" rx="18" ry="6" fill="#ce60c2"/>
 <ellipse cx="140" cy="352" rx="4" ry="5" fill="#8a50a8"/>
</g>
<g filter="url(#bl1)" fill="none" stroke="#fbeefb" stroke-linecap="round" stroke-linejoin="round">
 <path d="M62,350 L80,351 L96,351.5 L106,352" stroke-width="1.6"/>
 <path d="M51,357 L58,357.5 L63,358.7" stroke-width="2"/>
 <path d="M63,358.7 Q67,362 67.6,370 L68,382 L66.5,389" stroke="#d0a8e4" stroke-width="1.3"/>
 <path d="M66.5,389 L61,392.5 L55,400" stroke-width="2"/>
 <path d="M86.6,356 L87,366 L87.5,377" stroke-width="1.8"/>
 <path d="M110.3,359.6 Q111,368 109,374 L106.7,378.8" stroke-width="1.9"/>
 <path d="M64.6,389 Q72,387.2 82,387.4 L89.3,390.7 L94,398 L104.8,407 L106.7,415 L107,421" stroke-width="2"/>
 <path d="M101.2,387 L114,386.1 L114.9,399 L132.3,401.7 L145,403.5" stroke-width="1.8"/>
 <path d="M130.4,347.7 L139.6,368.8 L145,370.6" stroke="#c49ce4" stroke-width="1.2"/>
 <path d="M94,407 L99,413 L103,418" stroke-width="1.2"/>
</g>
<g filter="url(#bl1)" fill="#f8eefa">
 <ellipse cx="77.4" cy="361.5" rx="1.8" ry="2"/><ellipse cx="78.3" cy="372.4" rx="1.5" ry="1.8"/>
 <ellipse cx="58.2" cy="382.5" rx="1" ry="1.5"/><ellipse cx="92" cy="365" rx="2" ry="2.5"/>
 <ellipse cx="96" cy="372" rx="2.5" ry="2"/><ellipse cx="92" cy="377" rx="2" ry="1.5"/>
 <ellipse cx="112.2" cy="378.8" rx="1.6" ry="1.6"/><ellipse cx="125" cy="356" rx="3" ry="2.5"/>
 <ellipse cx="126.8" cy="367" rx="2" ry="1.5"/><ellipse cx="81" cy="393.4" rx="3" ry="2.5"/>
 <ellipse cx="86" cy="397" rx="2" ry="1.5"/><ellipse cx="103" cy="397" rx="2.5" ry="1.6"/>
 <ellipse cx="108" cy="400" rx="1.5" ry="1.2"/><ellipse cx="120" cy="378" rx="1.5" ry="1.2"/>
 <ellipse cx="71" cy="400" rx="1.3" ry="1.3"/><ellipse cx="133" cy="360" rx="1.3" ry="1.6"/>
 <ellipse cx="60" cy="366" rx="1.3" ry="1.3"/><ellipse cx="122" cy="392" rx="1.5" ry="1.2"/>
</g>
<rect x="52" y="346.5" width="91.5" height="73.5" filter="url(#spkW)" opacity="0.3"/>
<rect x="52" y="346.5" width="91.5" height="73.5" filter="url(#spkD)" opacity="0.35"/>
</g>

<!-- Tile 4: Safranin O, siTAK1 -->
<g clip-path="url(#c4)">
<rect x="147" y="346.5" width="91.8" height="73.5" fill="#68cad4"/>
<g filter="url(#bl3)">
 <ellipse cx="234" cy="358" rx="7" ry="12" fill="#dcd0e2"/>
 <ellipse cx="236" cy="395" rx="4" ry="25" fill="#a8d8dc"/>
 <ellipse cx="167" cy="369" rx="5" ry="11" fill="#e8dce8"/>
 <ellipse cx="154" cy="366" rx="3" ry="8" fill="#d4eaee"/>
 <ellipse cx="218" cy="416" rx="11" ry="4" fill="#f2eef4"/>
 <ellipse cx="212" cy="392" rx="16" ry="14" fill="#60c6d0"/>
 <ellipse cx="160" cy="392" rx="10" ry="10" fill="#84ccd2"/>
 <ellipse cx="150" cy="385" rx="2.5" ry="30" fill="#c4e4e8"/>
 <ellipse cx="200" cy="352" rx="25" ry="5" fill="#74c8d0"/>
</g>
<g filter="url(#bl1)" fill="none" stroke-linecap="round">
 <path d="M175,422 Q177,410 178.5,402 Q181,390 186,380 Q191,372 200,368.6 Q209,366.4 218,367.5 Q226,368.6 233,371" stroke="#b0508a" stroke-width="4.4"/>
 <path d="M175,422 Q177,410 178.5,402 Q181,390 186,380 Q191,372 200,368.6 Q209,366.4 218,367.5 Q226,368.6 233,371" stroke="#f2dcea" stroke-width="2.2"/>
 <path d="M196,366.8 Q208,363.5 220,364.8" stroke="#b86a98" stroke-width="0.9" opacity="0.7"/>
 <ellipse cx="167.4" cy="369.2" rx="3.4" ry="11.5" transform="rotate(-18 167.4 369.2)" fill="#f2e4ee" stroke="#d8b4cc" stroke-width="0.8"/>
 <path d="M154,358 L155,371" stroke="#f4f8fa" stroke-width="2.2"/>
 <path d="M208,414 L220,411 L228,414 L230,421" stroke="#f8f4f8" stroke-width="3"/>
 <path d="M170,396 L176,404" stroke="#2a5060" stroke-width="0.9"/>
 <path d="M232,370 L239,366" stroke="#f4eef4" stroke-width="3"/>
</g>
<g filter="url(#bl1)" fill="#f4fafb">
 <ellipse cx="155" cy="381" rx="2" ry="2.5"/><ellipse cx="160" cy="389" rx="2.5" ry="2"/>
 <ellipse cx="152" cy="396" rx="1.5" ry="2"/><ellipse cx="186" cy="358" rx="1.5" ry="1.2"/>
 <ellipse cx="214" cy="356" rx="2" ry="1.4"/><ellipse cx="224" cy="352" rx="2.5" ry="1.5"/>
 
</g>
<g fill="#2a2040" filter="url(#bl1)">
 <circle cx="157" cy="349.5" r="1.2"/><circle cx="231" cy="360" r="0.9"/><circle cx="236" cy="368" r="0.9"/>
</g>
<rect x="147" y="346.5" width="91.8" height="73.5" filter="url(#spkW)" opacity="0.4"/>
<rect x="147" y="346.5" width="91.8" height="73.5" filter="url(#spkT)" opacity="0.2"/>
</g>

<!-- scale bars -->
<text x="61.8" y="338.8" font-size="8.8" font-weight="bold" fill="#100010" stroke="#100010" stroke-width="0.35" textLength="20.3" lengthAdjust="spacingAndGlyphs">1 mm</text>
<line x1="53.7" y1="341.3" x2="89.9" y2="341.3" stroke="#0a0a0a" stroke-width="1.9"/>
<text x="155.1" y="338.2" font-size="8.7" fill="#142030" stroke="#142030" stroke-width="0.2" textLength="26.4" lengthAdjust="spacingAndGlyphs">500 µm</text>
<line x1="148.7" y1="341.3" x2="186.8" y2="341.3" stroke="#0a0a0a" stroke-width="1.9"/>
<text x="61.8" y="414.2" font-size="8.8" font-weight="bold" fill="#100010" stroke="#100010" stroke-width="0.35" textLength="20.3" lengthAdjust="spacingAndGlyphs">1 mm</text>
<line x1="53.6" y1="417.5" x2="90" y2="417.5" stroke="#0a0a0a" stroke-width="1.9"/>
<text x="155.1" y="414.2" font-size="8.7" fill="#142030" stroke="#142030" stroke-width="0.2" textLength="26.4" lengthAdjust="spacingAndGlyphs">500 µm</text>
<line x1="148.5" y1="417.4" x2="187" y2="417.4" stroke="#0a0a0a" stroke-width="1.9"/>

<line x1="332.5" y1="241.5" x2="332.5" y2="394.5" stroke="#8c8c8c" stroke-width="1"/>
<line x1="332.5" y1="394.5" x2="505.7" y2="394.5" stroke="#8c8c8c" stroke-width="1"/>
<line x1="330.3" y1="394.5" x2="332.5" y2="394.5" stroke="#8c8c8c" stroke-width="1"/>
<text x="327.8" y="398.0" font-size="10" text-anchor="end" fill="#1a1a1a">0</text>
<line x1="330.3" y1="356.4" x2="332.5" y2="356.4" stroke="#8c8c8c" stroke-width="1"/>
<text x="327.8" y="359.9" font-size="10" text-anchor="end" fill="#1a1a1a">1</text>
<line x1="330.3" y1="318.3" x2="332.5" y2="318.3" stroke="#8c8c8c" stroke-width="1"/>
<text x="327.8" y="321.8" font-size="10" text-anchor="end" fill="#1a1a1a">2</text>
<line x1="330.3" y1="280.2" x2="332.5" y2="280.2" stroke="#8c8c8c" stroke-width="1"/>
<text x="327.8" y="283.7" font-size="10" text-anchor="end" fill="#1a1a1a">3</text>
<line x1="330.3" y1="242.1" x2="332.5" y2="242.1" stroke="#8c8c8c" stroke-width="1"/>
<text x="327.8" y="245.6" font-size="10" text-anchor="end" fill="#1a1a1a">4</text>
<line x1="390" y1="394.5" x2="390" y2="396.7" stroke="#8c8c8c" stroke-width="1"/>
<line x1="447.5" y1="394.5" x2="447.5" y2="396.7" stroke="#8c8c8c" stroke-width="1"/>
<line x1="505.7" y1="394.5" x2="505.7" y2="396.7" stroke="#8c8c8c" stroke-width="1"/>
<text transform="translate(310.9,319.0) rotate(-90)" x="0" y="0" font-size="10" text-anchor="middle" textLength="73" lengthAdjust="spacingAndGlyphs" fill="#1a1a1a">Histology score</text>
<text x="360.4" y="410.8" font-size="10" text-anchor="middle" textLength="40" lengthAdjust="spacingAndGlyphs" fill="#1a1a1a">Synovial</text>
<text x="360.4" y="423.5" font-size="10" text-anchor="middle" textLength="59.2" lengthAdjust="spacingAndGlyphs" fill="#1a1a1a">inflammation</text>
<text x="418.3" y="410.8" font-size="10" text-anchor="middle" textLength="35.5" lengthAdjust="spacingAndGlyphs" fill="#1a1a1a">Erosion</text>
<text x="475.8" y="410.8" font-size="10" text-anchor="middle" textLength="35.8" lengthAdjust="spacingAndGlyphs" fill="#1a1a1a">PG loss</text>
<line x1="354.0" y1="300.77" x2="354.0" y2="287.06" stroke="#111" stroke-width="1.0"/>
<line x1="352.5" y1="287.06" x2="355.5" y2="287.06" stroke="#111" stroke-width="1.2"/>
<rect x="347.0" y="301.27" width="14.00" height="93.23" fill="#fff" stroke="#333" stroke-width="1.0"/>
<line x1="368.65" y1="344.97" x2="368.65" y2="339.25" stroke="#111" stroke-width="1.0"/>
<line x1="367.15" y1="339.25" x2="370.15" y2="339.25" stroke="#111" stroke-width="1.2"/>
<rect x="361.5" y="344.97" width="14.30" height="49.53" fill="#000"/>
<line x1="410.9" y1="305.35" x2="410.9" y2="291.25" stroke="#111" stroke-width="1.0"/>
<line x1="409.4" y1="291.25" x2="412.4" y2="291.25" stroke="#111" stroke-width="1.2"/>
<rect x="403.8" y="305.85" width="14.20" height="88.65" fill="#fff" stroke="#333" stroke-width="1.0"/>
<line x1="425.75" y1="357.16" x2="425.75" y2="348.4" stroke="#111" stroke-width="1.0"/>
<line x1="424.25" y1="348.4" x2="427.25" y2="348.4" stroke="#111" stroke-width="1.2"/>
<rect x="418.5" y="357.16" width="14.50" height="37.34" fill="#000"/>
<line x1="468.6" y1="289.73" x2="468.6" y2="274.49" stroke="#111" stroke-width="1.0"/>
<line x1="467.1" y1="274.49" x2="470.1" y2="274.49" stroke="#111" stroke-width="1.2"/>
<rect x="461.7" y="290.23" width="13.80" height="104.27" fill="#fff" stroke="#333" stroke-width="1.0"/>
<line x1="483.3" y1="340.4" x2="483.3" y2="330.49" stroke="#111" stroke-width="1.0"/>
<line x1="481.8" y1="330.49" x2="484.8" y2="330.49" stroke="#111" stroke-width="1.2"/>
<rect x="476.0" y="340.40" width="14.60" height="54.10" fill="#000"/>
<path d="M368.30,332.00L368.30,329.50M368.30,332.00L370.68,331.23M368.30,332.00L369.77,334.02M368.30,332.00L366.83,334.02M368.30,332.00L365.92,331.23" stroke="#111" stroke-width="1.15" stroke-linecap="round" fill="none"/>
<path d="M425.80,341.30L425.80,338.80M425.80,341.30L428.18,340.53M425.80,341.30L427.27,343.32M425.80,341.30L424.33,343.32M425.80,341.30L423.42,340.53" stroke="#111" stroke-width="1.15" stroke-linecap="round" fill="none"/>
<path d="M482.60,322.60L482.60,320.10M482.60,322.60L484.98,321.83M482.60,322.60L484.07,324.62M482.60,322.60L481.13,324.62M482.60,322.60L480.22,321.83" stroke="#111" stroke-width="1.15" stroke-linecap="round" fill="none"/>
<rect x="352.8" y="245.8" width="6.6" height="7.2" fill="#fff" stroke="#000" stroke-width="1"/>
<text x="365.0" y="253.4" font-size="10" textLength="20.8" lengthAdjust="spacingAndGlyphs" fill="#1a1a1a">siCT</text>
<rect x="409.2" y="245.8" width="8.1" height="8" fill="#000"/>
<text x="422.6" y="253.6" font-size="10" textLength="33.5" lengthAdjust="spacingAndGlyphs" fill="#1a1a1a">siTAK1</text>
<line x1="49.3" y1="465.5" x2="49.3" y2="555.5" stroke="#8c8c8c" stroke-width="1"/>
<line x1="49.3" y1="555.5" x2="124.6" y2="555.5" stroke="#8c8c8c" stroke-width="1"/>
<line x1="46.9" y1="555.3" x2="49.3" y2="555.3" stroke="#8c8c8c" stroke-width="1"/>
<text x="44.2" y="559.0" font-size="10.5" text-anchor="end" fill="#1a1a1a">0</text>
<line x1="46.9" y1="537.55" x2="49.3" y2="537.55" stroke="#8c8c8c" stroke-width="1"/>
<text x="44.2" y="541.25" font-size="10.5" text-anchor="end" fill="#1a1a1a">10</text>
<line x1="46.9" y1="519.8" x2="49.3" y2="519.8" stroke="#8c8c8c" stroke-width="1"/>
<text x="44.2" y="523.5" font-size="10.5" text-anchor="end" fill="#1a1a1a">20</text>
<line x1="46.9" y1="502.05" x2="49.3" y2="502.05" stroke="#8c8c8c" stroke-width="1"/>
<text x="44.2" y="505.75" font-size="10.5" text-anchor="end" fill="#1a1a1a">30</text>
<line x1="46.9" y1="484.3" x2="49.3" y2="484.3" stroke="#8c8c8c" stroke-width="1"/>
<text x="44.2" y="488.0" font-size="10.5" text-anchor="end" fill="#1a1a1a">40</text>
<line x1="46.9" y1="466.55" x2="49.3" y2="466.55" stroke="#8c8c8c" stroke-width="1"/>
<text x="44.2" y="470.25" font-size="10.5" text-anchor="end" fill="#1a1a1a">50</text>
<line x1="86.7" y1="555.5" x2="86.7" y2="557.7" stroke="#8c8c8c" stroke-width="1"/>
<text transform="translate(20.5,512.6) rotate(-90)" x="0" y="0" font-size="10.6" text-anchor="middle" textLength="68.7" lengthAdjust="spacingAndGlyphs" fill="#1a1a1a">TNF-α (pg/mL)</text>
<line x1="68.85" y1="484.83" x2="68.85" y2="470.28" stroke="#111" stroke-width="1.0"/>
<line x1="65.25" y1="470.28" x2="72.45" y2="470.28" stroke="#111" stroke-width="1.2"/>
<rect x="55.0" y="485.33" width="26.50" height="70.17" fill="#fff" stroke="#333" stroke-width="1.0"/>
<line x1="105.65" y1="535.42" x2="105.65" y2="531.34" stroke="#111" stroke-width="1.0"/>
<line x1="102.05" y1="531.34" x2="109.25" y2="531.34" stroke="#111" stroke-width="1.2"/>
<rect x="91.6" y="535.42" width="26.90" height="20.08" fill="#000"/>
<path d="M107.30,524.10L107.30,521.60M107.30,524.10L109.68,523.33M107.30,524.10L108.77,526.12M107.30,524.10L105.83,526.12M107.30,524.10L104.92,523.33" stroke="#111" stroke-width="1.15" stroke-linecap="round" fill="none"/>
<text x="56.9" y="570.8" font-size="10" textLength="20.6" lengthAdjust="spacingAndGlyphs" fill="#1a1a1a">siCT</text>
<text x="88.0" y="570.8" font-size="10" textLength="32.8" lengthAdjust="spacingAndGlyphs" fill="#1a1a1a">siTAK1</text>
<line x1="181.2" y1="464.5" x2="181.2" y2="555.5" stroke="#8c8c8c" stroke-width="1"/>
<line x1="181.2" y1="555.5" x2="253.5" y2="555.5" stroke="#8c8c8c" stroke-width="1"/>
<line x1="178.79999999999998" y1="555.3" x2="181.2" y2="555.3" stroke="#8c8c8c" stroke-width="1"/>
<text x="175.2" y="559.0" font-size="10.5" text-anchor="end" fill="#1a1a1a">0</text>
<line x1="178.79999999999998" y1="537.35" x2="181.2" y2="537.35" stroke="#8c8c8c" stroke-width="1"/>
<text x="175.2" y="541.05" font-size="10.5" text-anchor="end" fill="#1a1a1a">100</text>
<line x1="178.79999999999998" y1="519.4" x2="181.2" y2="519.4" stroke="#8c8c8c" stroke-width="1"/>
<text x="175.2" y="523.1" font-size="10.5" text-anchor="end" fill="#1a1a1a">200</text>
<line x1="178.79999999999998" y1="501.45" x2="181.2" y2="501.45" stroke="#8c8c8c" stroke-width="1"/>
<text x="175.2" y="505.15" font-size="10.5" text-anchor="end" fill="#1a1a1a">300</text>
<line x1="178.79999999999998" y1="483.5" x2="181.2" y2="483.5" stroke="#8c8c8c" stroke-width="1"/>
<text x="175.2" y="487.2" font-size="10.5" text-anchor="end" fill="#1a1a1a">400</text>
<line x1="178.79999999999998" y1="465.55" x2="181.2" y2="465.55" stroke="#8c8c8c" stroke-width="1"/>
<text x="175.2" y="469.25" font-size="10.5" text-anchor="end" fill="#1a1a1a">500</text>
<line x1="217.5" y1="555.5" x2="217.5" y2="557.7" stroke="#8c8c8c" stroke-width="1"/>
<text transform="translate(149.9,514.6) rotate(-90)" x="0" y="0" font-size="10.6" text-anchor="middle" textLength="57" lengthAdjust="spacingAndGlyphs" fill="#1a1a1a">IL-6 (ng/mL)</text>
<line x1="201.05" y1="480.27" x2="201.05" y2="470.76" stroke="#111" stroke-width="1.0"/>
<line x1="198.35" y1="470.76" x2="203.75" y2="470.76" stroke="#111" stroke-width="1.2"/>
<rect x="187.0" y="480.77" width="26.90" height="74.73" fill="#fff" stroke="#333" stroke-width="1.0"/>
<line x1="236.15" y1="514.73" x2="236.15" y2="502.71" stroke="#111" stroke-width="1.0"/>
<line x1="233.45" y1="502.71" x2="238.85" y2="502.71" stroke="#111" stroke-width="1.2"/>
<rect x="222.1" y="514.73" width="26.90" height="40.77" fill="#000"/>
<text x="190.0" y="570.8" font-size="10" textLength="20.6" lengthAdjust="spacingAndGlyphs" fill="#1a1a1a">siCT</text>
<text x="217.7" y="570.8" font-size="10" textLength="33.8" lengthAdjust="spacingAndGlyphs" fill="#1a1a1a">siTAK1</text>
<line x1="310.8" y1="465.5" x2="310.8" y2="555.5" stroke="#8c8c8c" stroke-width="1"/>
<line x1="310.8" y1="555.5" x2="387.7" y2="555.5" stroke="#8c8c8c" stroke-width="1"/>
<line x1="308.40000000000003" y1="555.4" x2="310.8" y2="555.4" stroke="#8c8c8c" stroke-width="1"/>
<text x="306.4" y="559.1" font-size="10.5" text-anchor="end" fill="#1a1a1a">0</text>
<line x1="308.40000000000003" y1="542.65" x2="310.8" y2="542.65" stroke="#8c8c8c" stroke-width="1"/>
<text x="306.4" y="546.35" font-size="10.5" text-anchor="end" fill="#1a1a1a">20</text>
<line x1="308.40000000000003" y1="529.9" x2="310.8" y2="529.9" stroke="#8c8c8c" stroke-width="1"/>
<text x="306.4" y="533.6" font-size="10.5" text-anchor="end" fill="#1a1a1a">40</text>
<line x1="308.40000000000003" y1="517.15" x2="310.8" y2="517.15" stroke="#8c8c8c" stroke-width="1"/>
<text x="306.4" y="520.85" font-size="10.5" text-anchor="end" fill="#1a1a1a">60</text>
<line x1="308.40000000000003" y1="504.4" x2="310.8" y2="504.4" stroke="#8c8c8c" stroke-width="1"/>
<text x="306.4" y="508.1" font-size="10.5" text-anchor="end" fill="#1a1a1a">80</text>
<line x1="308.40000000000003" y1="491.65" x2="310.8" y2="491.65" stroke="#8c8c8c" stroke-width="1"/>
<text x="306.4" y="495.35" font-size="10.5" text-anchor="end" fill="#1a1a1a">100</text>
<line x1="308.40000000000003" y1="478.9" x2="310.8" y2="478.9" stroke="#8c8c8c" stroke-width="1"/>
<text x="306.4" y="482.6" font-size="10.5" text-anchor="end" fill="#1a1a1a">120</text>
<line x1="308.40000000000003" y1="466.15" x2="310.8" y2="466.15" stroke="#8c8c8c" stroke-width="1"/>
<text x="306.4" y="469.85" font-size="10.5" text-anchor="end" fill="#1a1a1a">140</text>
<line x1="347.7" y1="555.5" x2="347.7" y2="557.7" stroke="#8c8c8c" stroke-width="1"/>
<text transform="translate(281.5,509.6) rotate(-90)" x="0" y="0" font-size="10.6" text-anchor="middle" textLength="64.3" lengthAdjust="spacingAndGlyphs" fill="#1a1a1a">IL-12 (pg/mL)</text>
<line x1="330.1" y1="487.82" x2="330.1" y2="478.9" stroke="#111" stroke-width="1.0"/>
<line x1="328.5" y1="478.9" x2="331.7" y2="478.9" stroke="#111" stroke-width="1.2"/>
<rect x="316.7" y="488.32" width="25.60" height="67.18" fill="#fff" stroke="#333" stroke-width="1.0"/>
<line x1="366.45" y1="516.13" x2="366.45" y2="511.09" stroke="#111" stroke-width="1.0"/>
<line x1="364.85" y1="511.09" x2="368.05" y2="511.09" stroke="#111" stroke-width="1.2"/>
<rect x="352.1" y="516.13" width="27.50" height="39.37" fill="#000"/>
<path d="M368.00,505.50L368.00,503.00M368.00,505.50L370.38,504.73M368.00,505.50L369.47,507.52M368.00,505.50L366.53,507.52M368.00,505.50L365.62,504.73" stroke="#111" stroke-width="1.15" stroke-linecap="round" fill="none"/>
<text x="318.8" y="570.8" font-size="10" textLength="21.8" lengthAdjust="spacingAndGlyphs" fill="#1a1a1a">siCT</text>
<text x="348.3" y="570.8" font-size="10" textLength="34.6" lengthAdjust="spacingAndGlyphs" fill="#1a1a1a">siTAK1</text>
<line x1="442.3" y1="465.0" x2="442.3" y2="555.0" stroke="#8c8c8c" stroke-width="1"/>
<line x1="442.3" y1="555.0" x2="518.0" y2="555.0" stroke="#8c8c8c" stroke-width="1"/>
<line x1="439.90000000000003" y1="555.0" x2="442.3" y2="555.0" stroke="#8c8c8c" stroke-width="1"/>
<text x="437.7" y="558.7" font-size="10.5" text-anchor="end" fill="#1a1a1a">0</text>
<line x1="439.90000000000003" y1="535.0" x2="442.3" y2="535.0" stroke="#8c8c8c" stroke-width="1"/>
<text x="437.7" y="538.7" font-size="10.5" text-anchor="end" fill="#1a1a1a">40</text>
<line x1="439.90000000000003" y1="515.0" x2="442.3" y2="515.0" stroke="#8c8c8c" stroke-width="1"/>
<text x="437.7" y="518.7" font-size="10.5" text-anchor="end" fill="#1a1a1a">80</text>
<line x1="439.90000000000003" y1="495.0" x2="442.3" y2="495.0" stroke="#8c8c8c" stroke-width="1"/>
<text x="437.7" y="498.7" font-size="10.5" text-anchor="end" fill="#1a1a1a">120</text>
<line x1="439.90000000000003" y1="475.0" x2="442.3" y2="475.0" stroke="#8c8c8c" stroke-width="1"/>
<text x="437.7" y="478.7" font-size="10.5" text-anchor="end" fill="#1a1a1a">160</text>
<line x1="479.0" y1="555.0" x2="479.0" y2="557.2" stroke="#8c8c8c" stroke-width="1"/>
<text transform="translate(411.6,517.9) rotate(-90)" x="0" y="0" font-size="10.6" text-anchor="middle" textLength="62" lengthAdjust="spacingAndGlyphs" fill="#1a1a1a">IL-23 (pg/mL)</text>
<line x1="462.65" y1="491.25" x2="462.65" y2="472.5" stroke="#111" stroke-width="1.0"/>
<line x1="461.05" y1="472.5" x2="464.25" y2="472.5" stroke="#111" stroke-width="1.2"/>
<rect x="448.8" y="491.75" width="26.50" height="63.25" fill="#fff" stroke="#333" stroke-width="1.0"/>
<line x1="498.0" y1="527.5" x2="498.0" y2="524.5" stroke="#111" stroke-width="1.0"/>
<line x1="496.4" y1="524.5" x2="499.6" y2="524.5" stroke="#111" stroke-width="1.2"/>
<rect x="484.0" y="527.50" width="26.80" height="27.50" fill="#000"/>
<path d="M499.30,518.80L499.30,516.30M499.30,518.80L501.68,518.03M499.30,518.80L500.77,520.82M499.30,518.80L497.83,520.82M499.30,518.80L496.92,518.03" stroke="#111" stroke-width="1.15" stroke-linecap="round" fill="none"/>
<text x="450.4" y="570.8" font-size="10" textLength="21.5" lengthAdjust="spacingAndGlyphs" fill="#1a1a1a">siCT</text>
<text x="481.9" y="570.8" font-size="10" textLength="33.7" lengthAdjust="spacingAndGlyphs" fill="#1a1a1a">siTAK1</text>
</svg>
</body></html>
